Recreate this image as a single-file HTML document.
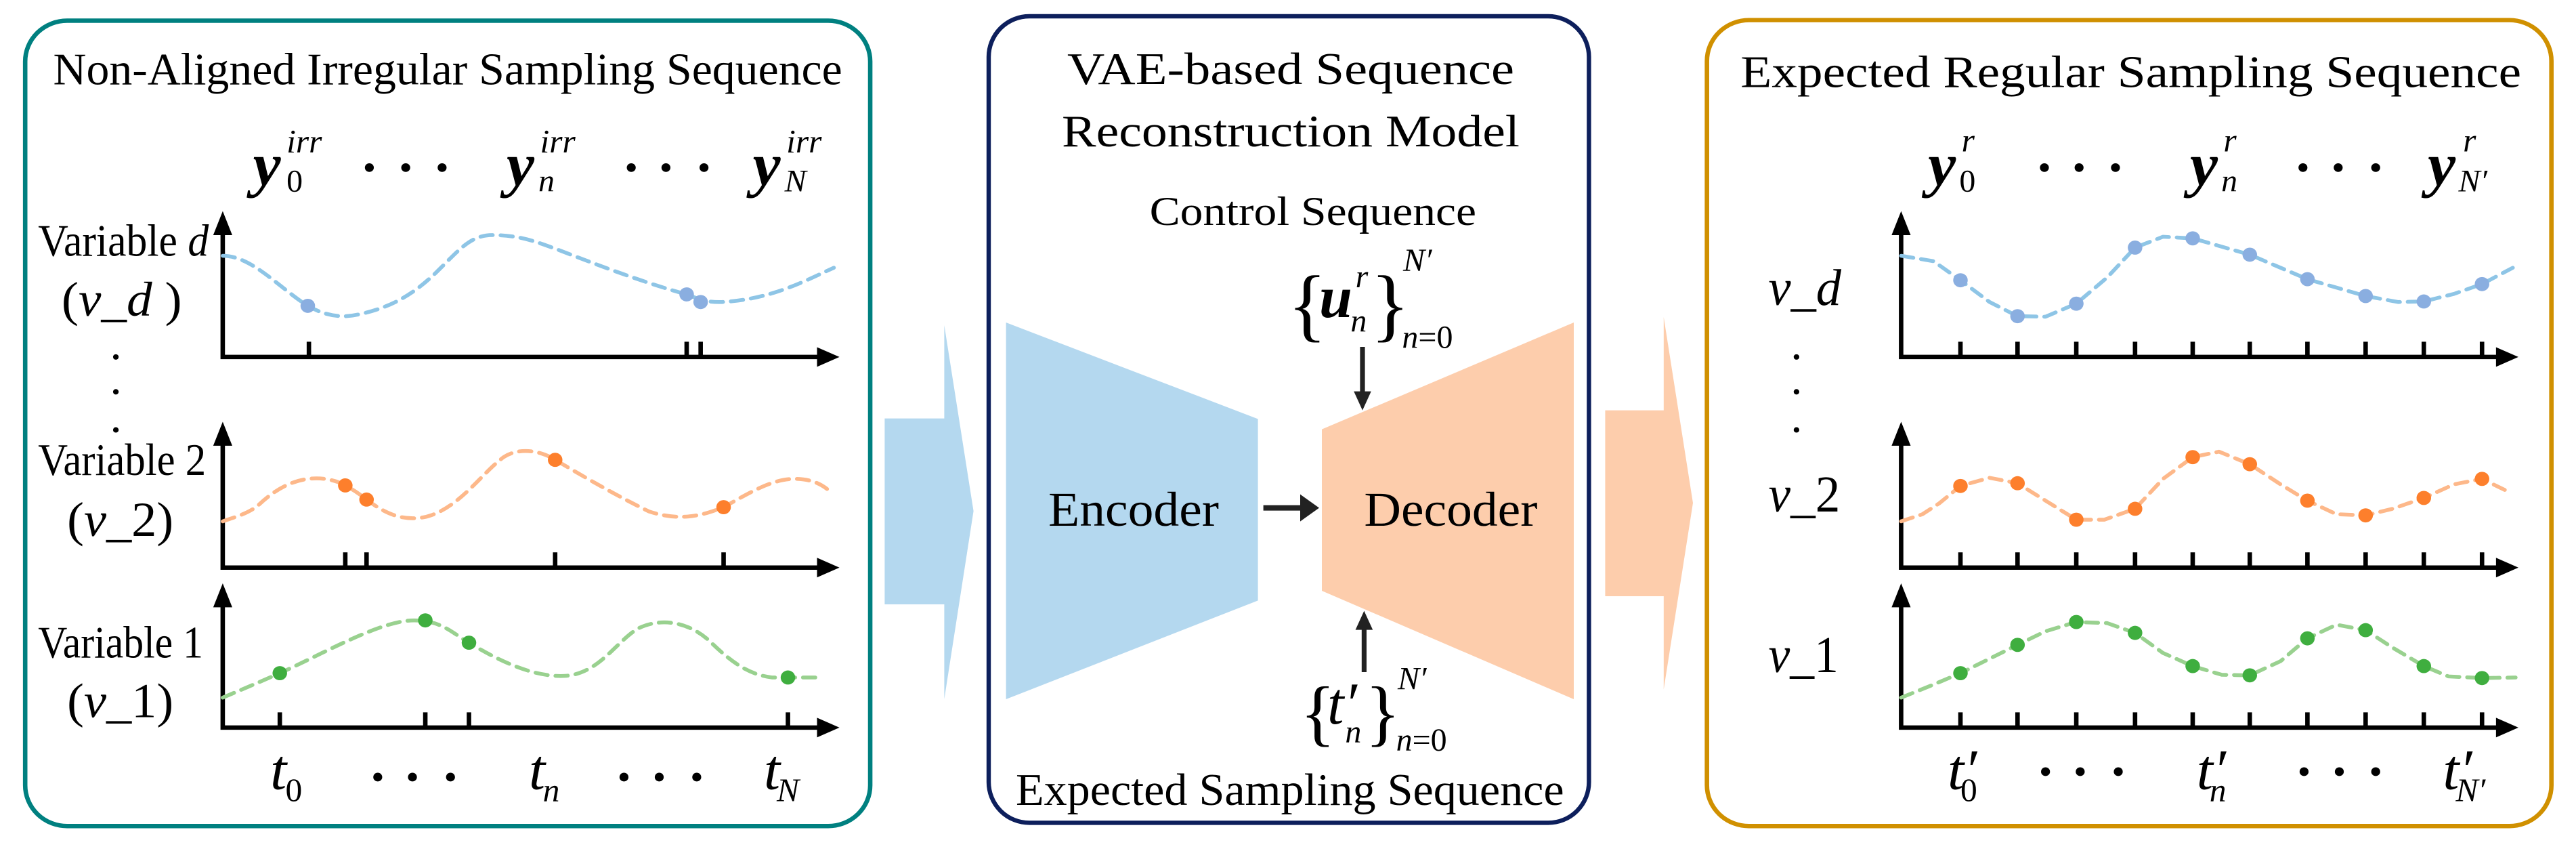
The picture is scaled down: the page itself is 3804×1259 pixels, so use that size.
<!DOCTYPE html>
<html><head><meta charset="utf-8"><style>
html,body{margin:0;padding:0;background:#fff;}
svg{display:block;}
text{font-family:"Liberation Serif",serif;fill:#000;}
.i{font-style:italic;}
.bi{font-style:italic;font-weight:bold;}
</style></head><body>
<svg width="3804" height="1259" viewBox="0 0 3804 1259" xmlns="http://www.w3.org/2000/svg">
<rect width="3804" height="1259" fill="#fff"/>

<!-- LEFT PANEL -->
<g transform="scale(0.8264,0.8032)">
<rect x="45" y="38" width="1510" height="1480" rx="75" fill="none" stroke="#008080" stroke-width="8"/>
<text x="95" y="155" font-size="83" textLength="1410" lengthAdjust="spacingAndGlyphs">Non-Aligned Irregular Sampling Sequence</text>
<text x="452" y="340" font-size="112" class="bi">y</text><text x="512" y="280" font-size="60" class="i">irr</text><text x="512" y="352" font-size="58">0</text>
<text x="905" y="340" font-size="112" class="bi">y</text><text x="965" y="280" font-size="60" class="i">irr</text><text x="962" y="352" font-size="58" class="i">n</text>
<text x="1345" y="340" font-size="112" class="bi">y</text><text x="1405" y="280" font-size="60" class="i">irr</text><text x="1402" y="352" font-size="58" class="i">N</text>
<g fill="#000"><circle cx="660" cy="308" r="8"/><circle cx="725" cy="308" r="8"/><circle cx="790" cy="308" r="8"/><circle cx="1128" cy="308" r="8"/><circle cx="1190" cy="308" r="8"/><circle cx="1258" cy="308" r="8"/></g>
<text x="68" y="470" font-size="83" textLength="305" lengthAdjust="spacingAndGlyphs">Variable <tspan class="i">d</tspan></text>
<text x="110" y="580" font-size="90" textLength="215" lengthAdjust="spacingAndGlyphs">(<tspan class="i">v</tspan>_<tspan class="i">d</tspan> )</text>
<g fill="#000"><circle cx="207" cy="656" r="5"/><circle cx="207" cy="720" r="5"/><circle cx="207" cy="790" r="5"/></g>
<text x="68" y="873" font-size="83" textLength="300" lengthAdjust="spacingAndGlyphs">Variable 2</text>
<text x="120" y="985" font-size="90" textLength="190" lengthAdjust="spacingAndGlyphs">(<tspan class="i">v</tspan>_2)</text>
<text x="68" y="1208" font-size="83" textLength="295" lengthAdjust="spacingAndGlyphs">Variable 1</text>
<text x="120" y="1318" font-size="90" textLength="190" lengthAdjust="spacingAndGlyphs">(<tspan class="i">v</tspan>_1)</text>
<g stroke="#000" stroke-width="8" fill="none">
<path d="M398,660 V425 M398,656 H1465"/>
<path d="M398,1047 V810 M398,1043 H1465"/>
<path d="M398,1341 V1105 M398,1337 H1465"/>
<path d="M552,628 V656 M1227,628 V656 M1252,628 V656"/>
<path d="M617,1015 V1043 M655,1015 V1043 M992,1015 V1043 M1293,1015 V1043"/>
<path d="M500,1309 V1337 M760,1309 V1337 M838,1309 V1337 M1408,1309 V1337"/>
</g>
<g fill="#000">
<polygon points="398,388 381,432 415,432"/><polygon points="1500,656 1460,638 1460,674"/>
<polygon points="398,775 381,819 415,819"/><polygon points="1500,1043 1460,1025 1460,1061"/>
<polygon points="398,1072 381,1116 415,1116"/><polygon points="1500,1337 1460,1319 1460,1355"/>
</g>
<g fill="none" stroke-width="7" stroke-dasharray="22 14" stroke-linecap="round">
<path stroke="#8ec5e6" d="M398,470 C450,470 500,530 550,562 C580,580 610,585 640,578 C700,565 740,540 780,500 C820,460 840,432 880,432 C930,432 960,445 1000,460 C1100,500 1170,525 1227,541 C1245,548 1260,556 1290,555 C1380,550 1440,515 1490,492"/>
<path stroke="#fdb88a" d="M398,958 C420,950 440,945 460,930 C500,890 540,875 580,880 C600,883 610,888 617,892 C635,902 645,910 655,918 C690,945 720,958 760,950 C820,935 860,870 900,840 C930,820 970,830 992,845 C1050,880 1100,910 1160,940 C1220,960 1260,945 1293,932 C1340,905 1380,880 1420,880 C1450,880 1470,890 1485,905"/>
<path stroke="#99d18f" d="M398,1282 C430,1268 460,1255 500,1237 C580,1200 680,1140 740,1140 C790,1140 810,1165 838,1181 C900,1220 960,1245 1010,1242 C1070,1238 1100,1180 1140,1155 C1190,1130 1240,1150 1270,1180 C1310,1220 1340,1240 1380,1245 L1465,1245"/>
</g>
<g fill="#8aaee0"><circle cx="550" cy="562" r="13"/><circle cx="1227" cy="541" r="13"/><circle cx="1252" cy="555" r="13"/></g>
<g fill="#fd7f2c"><circle cx="617" cy="892" r="13"/><circle cx="655" cy="918" r="13"/><circle cx="992" cy="845" r="13"/><circle cx="1293" cy="932" r="13"/></g>
<g fill="#3fae3f"><circle cx="500" cy="1237" r="13"/><circle cx="760" cy="1140" r="13"/><circle cx="838" cy="1181" r="13"/><circle cx="1408" cy="1245" r="13"/></g>
<text x="483" y="1450" font-size="105" class="i">t</text><text x="510" y="1472" font-size="60">0</text>
<text x="945" y="1450" font-size="105" class="i">t</text><text x="970" y="1472" font-size="60" class="i">n</text>
<text x="1365" y="1450" font-size="105" class="i">t</text><text x="1388" y="1472" font-size="60" class="i">N</text>
<g fill="#000"><circle cx="675" cy="1428" r="8"/><circle cx="737" cy="1428" r="8"/><circle cx="805" cy="1428" r="8"/><circle cx="1115" cy="1428" r="8"/><circle cx="1178" cy="1428" r="8"/><circle cx="1245" cy="1428" r="8"/></g>
</g>

<!-- MIDDLE PANEL -->
<g transform="translate(1300,0) scale(0.8)">
<polygon points="8,772 118,772 118,600 172,943 118,1290 118,1115 8,1115" fill="#b4d8ef"/>
<rect x="200" y="30" width="1108" height="1488" rx="75" fill="none" stroke="#0d1f5c" stroke-width="8"/>
<text x="345" y="155" font-size="83" textLength="825" lengthAdjust="spacingAndGlyphs">VAE-based Sequence</text>
<text x="335" y="270" font-size="83" textLength="845" lengthAdjust="spacingAndGlyphs">Reconstruction Model</text>
<text x="497" y="415" font-size="75" textLength="603" lengthAdjust="spacingAndGlyphs">Control Sequence</text>
<polygon points="232,595 697,773 697,1108 232,1290" fill="#b4d8ef"/>
<polygon points="815,792 1280,595 1280,1290 815,1090" fill="#fdcdac"/>
<text x="310" y="970" font-size="90" textLength="315" lengthAdjust="spacingAndGlyphs">Encoder</text>
<text x="893" y="970" font-size="90" textLength="320" lengthAdjust="spacingAndGlyphs">Decoder</text>
<line x1="707" y1="937" x2="785" y2="937" stroke="#222" stroke-width="10"/>
<polygon points="775,912 810,937 775,962" fill="#222"/>
<text x="752" y="612" font-size="150">{</text>
<text x="810" y="585" font-size="110" class="bi">u</text>
<text x="877" y="530" font-size="60" class="i">r</text>
<text x="868" y="612" font-size="60" class="i">n</text>
<text x="905" y="612" font-size="150">}</text>
<text x="965" y="500" font-size="60" class="i">N′</text>
<text x="963" y="642" font-size="60"><tspan class="i">n</tspan>=0</text>
<line x1="890" y1="640" x2="890" y2="730" stroke="#222" stroke-width="9"/>
<polygon points="874,722 890,757 906,722" fill="#222"/>
<line x1="893" y1="1240" x2="893" y2="1155" stroke="#222" stroke-width="9"/>
<polygon points="877,1162 893,1127 909,1162" fill="#222"/>
<text x="775" y="1360" font-size="135">{</text>
<text x="825" y="1335" font-size="110" class="i">t′</text>
<text x="858" y="1370" font-size="60" class="i">n</text>
<text x="895" y="1360" font-size="135">}</text>
<text x="955" y="1272" font-size="60" class="i">N′</text>
<text x="952" y="1385" font-size="60"><tspan class="i">n</tspan>=0</text>
<text x="250" y="1485" font-size="83" textLength="1012" lengthAdjust="spacingAndGlyphs">Expected Sampling Sequence</text>
<polygon points="1338,757 1446,757 1446,585 1500,928 1446,1272 1446,1100 1338,1100" fill="#fdcdac"/>
</g>

<!-- RIGHT PANEL -->
<g transform="translate(2500,0) scale(0.8264,0.8032)">
<rect x="25" y="37" width="1509" height="1481" rx="75" fill="none" stroke="#d09000" stroke-width="8"/>
<text x="85" y="160" font-size="83" textLength="1395" lengthAdjust="spacingAndGlyphs">Expected Regular Sampling Sequence</text>
<text x="420" y="340" font-size="112" class="bi">y</text><text x="480" y="278" font-size="60" class="i">r</text><text x="476" y="352" font-size="58">0</text>
<text x="888" y="340" font-size="112" class="bi">y</text><text x="948" y="278" font-size="60" class="i">r</text><text x="944" y="352" font-size="58" class="i">n</text>
<text x="1313" y="340" font-size="112" class="bi">y</text><text x="1376" y="278" font-size="60" class="i">r</text><text x="1368" y="352" font-size="58" class="i">N′</text>
<g fill="#000"><circle cx="628" cy="308" r="8"/><circle cx="690" cy="308" r="8"/><circle cx="755" cy="308" r="8"/><circle cx="1090" cy="308" r="8"/><circle cx="1153" cy="308" r="8"/><circle cx="1220" cy="308" r="8"/></g>
<text x="135" y="560" font-size="95" class="i" textLength="130" lengthAdjust="spacingAndGlyphs">v_d</text>
<g fill="#000"><circle cx="185" cy="656" r="5"/><circle cx="185" cy="720" r="5"/><circle cx="185" cy="790" r="5"/></g>
<text x="135" y="940" font-size="95" textLength="128" lengthAdjust="spacingAndGlyphs"><tspan class="i">v</tspan>_2</text>
<text x="135" y="1235" font-size="95" textLength="125" lengthAdjust="spacingAndGlyphs"><tspan class="i">v</tspan>_1</text>
<g stroke="#000" stroke-width="8" fill="none">
<path d="M372,660 V425 M372,656 H1440"/>
<path d="M372,1047 V810 M372,1043 H1440"/>
<path d="M372,1341 V1105 M372,1337 H1440"/>
<path d="M478,628V656M580,628V656M685,628V656M790,628V656M893,628V656M995,628V656M1098,628V656M1202,628V656M1306,628V656M1410,628V656"/>
<path d="M478,1015V1043M580,1015V1043M685,1015V1043M790,1015V1043M893,1015V1043M995,1015V1043M1098,1015V1043M1202,1015V1043M1306,1015V1043M1410,1015V1043"/>
<path d="M478,1309V1337M580,1309V1337M685,1309V1337M790,1309V1337M893,1309V1337M995,1309V1337M1098,1309V1337M1202,1309V1337M1306,1309V1337M1410,1309V1337"/>
</g>
<g fill="#000">
<polygon points="372,388 355,432 389,432"/><polygon points="1475,656 1435,638 1435,674"/>
<polygon points="372,775 355,819 389,819"/><polygon points="1475,1043 1435,1025 1435,1061"/>
<polygon points="372,1072 355,1116 389,1116"/><polygon points="1475,1337 1435,1319 1435,1355"/>
</g>
<g fill="none" stroke-width="7" stroke-dasharray="22 14" stroke-linecap="round" stroke-linejoin="round">
<polyline stroke="#8ec5e6" points="372,470 430,480 478,515 530,555 580,581 630,582 685,558 740,510 790,455 840,435 893,438 995,468 1098,513 1202,544 1260,555 1306,554 1360,540 1410,522 1465,492"/>
<polyline stroke="#fdb88a" points="372,958 410,945 440,925 478,893 530,878 580,888 630,920 685,955 735,955 790,935 840,880 893,840 940,830 995,853 1050,890 1098,920 1150,945 1202,947 1250,935 1306,915 1360,890 1410,880 1460,905"/>
<polyline stroke="#99d18f" points="372,1282 425,1260 478,1237 580,1185 630,1160 685,1143 740,1145 790,1163 840,1200 893,1224 945,1240 995,1241 1050,1215 1098,1173 1150,1148 1202,1158 1250,1190 1306,1224 1350,1243 1410,1246 1470,1245"/>
</g>
<g fill="#8aaee0"><circle cx="478" cy="515" r="13"/><circle cx="580" cy="581" r="13"/><circle cx="685" cy="558" r="13"/><circle cx="790" cy="455" r="13"/><circle cx="893" cy="438" r="13"/><circle cx="995" cy="468" r="13"/><circle cx="1098" cy="513" r="13"/><circle cx="1202" cy="544" r="13"/><circle cx="1306" cy="554" r="13"/><circle cx="1410" cy="522" r="13"/></g>
<g fill="#fd7f2c"><circle cx="478" cy="893" r="13"/><circle cx="580" cy="888" r="13"/><circle cx="685" cy="955" r="13"/><circle cx="790" cy="935" r="13"/><circle cx="893" cy="840" r="13"/><circle cx="995" cy="853" r="13"/><circle cx="1098" cy="920" r="13"/><circle cx="1202" cy="947" r="13"/><circle cx="1306" cy="915" r="13"/><circle cx="1410" cy="880" r="13"/></g>
<g fill="#3fae3f"><circle cx="478" cy="1237" r="13"/><circle cx="580" cy="1185" r="13"/><circle cx="685" cy="1143" r="13"/><circle cx="790" cy="1163" r="13"/><circle cx="893" cy="1224" r="13"/><circle cx="995" cy="1241" r="13"/><circle cx="1098" cy="1173" r="13"/><circle cx="1202" cy="1158" r="13"/><circle cx="1306" cy="1224" r="13"/><circle cx="1410" cy="1246" r="13"/></g>
<text x="455" y="1450" font-size="105" class="i">t′</text><text x="478" y="1472" font-size="60">0</text>
<text x="900" y="1450" font-size="105" class="i">t′</text><text x="923" y="1472" font-size="60" class="i">n</text>
<text x="1340" y="1450" font-size="105" class="i">t′</text><text x="1363" y="1472" font-size="60" class="i">N′</text>
<g fill="#000"><circle cx="630" cy="1418" r="8"/><circle cx="692" cy="1418" r="8"/><circle cx="760" cy="1418" r="8"/><circle cx="1092" cy="1418" r="8"/><circle cx="1155" cy="1418" r="8"/><circle cx="1220" cy="1418" r="8"/></g>
</g>
</svg>
</body></html>
